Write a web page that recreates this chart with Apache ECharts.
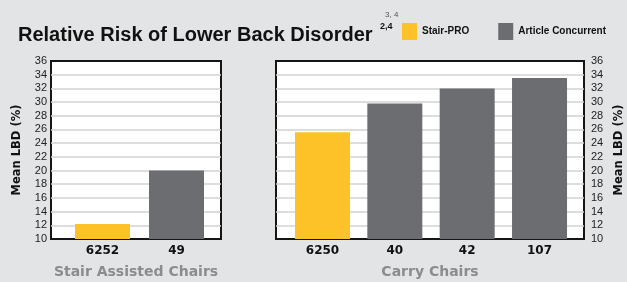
<!DOCTYPE html>
<html>
<head>
<meta charset="utf-8">
<script src="https://cdn.jsdelivr.net/npm/echarts@6/dist/echarts.min.js"></script>
<style>
    html, body { margin: 0; padding: 0; background: #e3e4e6; }
</style>
</head>
<body>
<div id="risk-chart" style="width: 627px; height: 282px"></div>
<script>
// 数据
const stairCats = ['6252', '49']
const stairPro = [12.2, '-']
const stairArticle = ['-', 20]

const carryCats = ['6250', '40', '42', '107']
const carryPro = [25.6, '-', '-', '-']
const carryArticle = ['-', 29.8, 32, 33.5]

const yMin = 10
const yMax = 36
const yStep = 2

const YELLOW = '#fdc227'
const GRAY = '#6c6d71'
const SANS = '"Liberation Sans", Arial, sans-serif'
const WIDE = '"DejaVu Sans", sans-serif'

var chart = echarts.init(document.getElementById('risk-chart'))

// 外框 + y轴刻度
function frameY(gridIndex, position, gap) {
    return {
        type: 'value',
        gridIndex: gridIndex,
        position: position,
        min: yMin,
        max: yMax,
        interval: yStep,
        name: 'Mean LBD (%)',
        nameLocation: 'middle',
        nameRotate: 90,
        nameGap: gap,
        nameTextStyle: {fontFamily: WIDE, fontWeight: 'bold', fontSize: 11.5, color: '#111'},
        axisLine: {show: false},
        axisTick: {show: false},
        axisLabel: {
            fontFamily: SANS,
            fontSize: 11,
            color: '#222',
            margin: position === 'left' ? 4 : 7
        },
        splitLine: {show: true, showMinLine: false, showMaxLine: false, lineStyle: {color: '#d2d2d2', width: 1.5}}
    }
}

function frameX(gridIndex, name) {
    return {
        type: 'value',
        gridIndex: gridIndex,
        min: 0,
        max: 1,
        name: name,
        nameLocation: 'middle',
        nameGap: 26,
        nameTextStyle: {fontFamily: WIDE, fontWeight: 'bold', fontSize: 14, color: '#8b8c8e', verticalAlign: 'top'},
        axisLine: {show: false},
        axisTick: {show: false},
        axisLabel: {show: false},
        splitLine: {show: false}
    }
}

function barX(gridIndex, cats) {
    return {
        type: 'category',
        gridIndex: gridIndex,
        data: cats,
        axisLine: {show: false},
        axisTick: {show: false},
        axisLabel: {fontFamily: WIDE, fontWeight: 'bold', fontSize: 12, color: '#111', margin: 6}
    }
}

function barY(gridIndex) {
    return {
        type: 'value',
        gridIndex: gridIndex,
        min: yMin,
        max: yMax,
        interval: yStep,
        show: false
    }
}

function bars(name, data, color, idx) {
    return {
        name: name,
        type: 'bar',
        xAxisIndex: idx,
        yAxisIndex: idx,
        data: data,
        barWidth: 55,
        barGap: '-100%',
        itemStyle: {color: color},
        silent: true
    }
}

let option = {
    backgroundColor: '#e3e4e6',
    animation: false,
    title: [
        {
            text: 'Relative Risk of Lower Back Disorder',
            left: 13,
            top: 20,
            textStyle: {fontFamily: SANS, fontWeight: 'bold', fontSize: 20, color: '#111'}
        },
        {
            text: '2,4',
            left: 375,
            top: 17,
            textStyle: {fontFamily: SANS, fontWeight: 'bold', fontSize: 9, color: '#111'}
        },
        {
            text: '3, 4',
            left: 380,
            top: 6,
            textStyle: {fontFamily: SANS, fontWeight: 'normal', fontSize: 8, color: '#555'}
        }
    ],
    legend: {
        left: 402,
        top: 23,
        width: 225,
        icon: 'rect',
        itemWidth: 15,
        itemHeight: 17,
        itemGap: 29,
        padding: 0,
        data: ['Stair-PRO', 'Article Concurrent'],
        textStyle: {fontFamily: SANS, fontWeight: 'bold', fontSize: 10, color: '#111'}
    },
    grid: [
        // 左 外框
        {left: 51, right: 406, top: 61, bottom: 43, show: true, backgroundColor: '#fff',
            borderColor: '#151515', borderWidth: 2, containLabel: false, outerBoundsMode: 'none'},
        // 左 柱子
        {left: 65.5, width: 148, top: 61, bottom: 43, containLabel: false, outerBoundsMode: 'none'},
        // 右 外框
        {left: 276, right: 43, top: 61, bottom: 43, show: true, backgroundColor: '#fff',
            borderColor: '#151515', borderWidth: 2, containLabel: false, outerBoundsMode: 'none'},
        // 右 柱子
        {left: 286.3, width: 289.4, top: 61, bottom: 43, containLabel: false, outerBoundsMode: 'none'}
    ],
    xAxis: [
        frameX(0, 'Stair Assisted Chairs'),
        barX(1, stairCats),
        frameX(2, 'Carry Chairs'),
        barX(3, carryCats)
    ],
    yAxis: [
        frameY(0, 'left', 28),
        barY(1),
        frameY(2, 'right', 29),
        barY(3)
    ],
    series: [
        bars('Stair-PRO', stairPro, YELLOW, 1),
        bars('Article Concurrent', stairArticle, GRAY, 1),
        bars('Stair-PRO', carryPro, YELLOW, 3),
        bars('Article Concurrent', carryArticle, GRAY, 3)
    ]
}

option && chart.setOption(option)
</script>
</body>
</html>
